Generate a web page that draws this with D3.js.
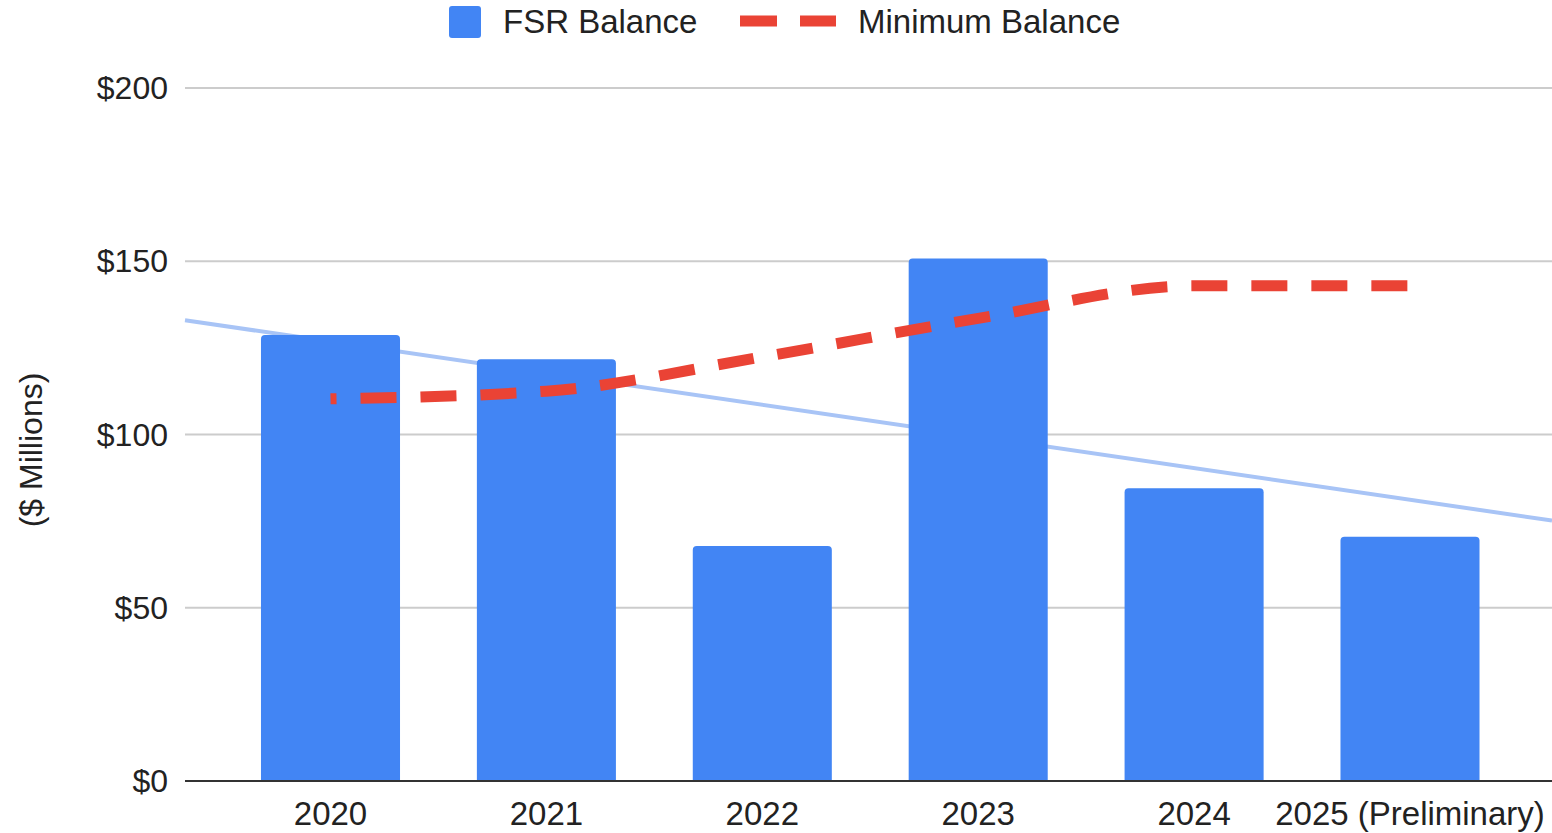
<!DOCTYPE html>
<html>
<head>
<meta charset="utf-8">
<script src="https://cdn.jsdelivr.net/npm/d3@7"></script>
<style>
  html, body { margin: 0; padding: 0; background: #fff; }
  svg { display: block; font-family: "Liberation Sans", Arial, sans-serif; }
</style>
</head>
<body>
<svg id="chart" width="1552" height="833"></svg>
<script>
// ---- data ----
const categories = ["2020", "2021", "2022", "2023", "2024", "2025 (Preliminary)"];
const fsrBalance = [128.7, 121.7, 67.8, 150.8, 84.5, 70.5];
const minimumBalance = [110.3, 112.5, 122.4, 133.5, 142.9, 142.9];
const yTicks = [0, 50, 100, 150, 200];
const seriesNames = ["FSR Balance", "Minimum Balance"];
const yAxisTitle = "($ Millions)";

// ---- layout ----
const svg = d3.select("#chart");
const plotLeft = 185, plotRight = 1552, plotTop = 88, plotBottom = 781;

const x = d3.scalePoint().domain(categories).range([330.5, 1410]);
const step = x.step();
const barW = step * 0.644;
const y = d3.scaleLinear().domain([0, 200]).range([plotBottom, plotTop]);

const colBar = "#4285f4", colMin = "#ea4335", colTrend = "#a8c4f6";

// gridlines
svg.append("g").selectAll("line").data(yTicks.filter(d => d > 0)).join("line")
  .attr("x1", plotLeft).attr("x2", plotRight)
  .attr("y1", d => y(d)).attr("y2", d => y(d))
  .attr("stroke", "#cccccc").attr("stroke-width", 2);

// y tick labels
svg.append("g").selectAll("text").data(yTicks).join("text")
  .attr("x", 168).attr("y", d => y(d))
  .attr("text-anchor", "end").attr("dominant-baseline", "central")
  .attr("font-size", 32).attr("fill", "#222")
  .text(d => "$" + d);

// y axis title
svg.append("text")
  .attr("transform", `translate(42, ${(370 + 530) / 2}) rotate(-90)`)
  .attr("text-anchor", "middle")
  .attr("font-size", 32).attr("fill", "#222")
  .text(yAxisTitle);

// trendline (linear regression on FSR balance by index)
const idx = fsrBalance.map((_, i) => i);
const mx = d3.mean(idx), my = d3.mean(fsrBalance);
const slope = d3.sum(idx, i => (i - mx) * (fsrBalance[i] - my)) / d3.sum(idx, i => (i - mx) ** 2);
const intercept = my - slope * mx;
const xIdx = d3.scaleLinear().domain([0, categories.length - 1]).range([x(categories[0]), x(categories[categories.length - 1])]);
const trendPts = [xIdx.invert(plotLeft), xIdx.invert(plotRight)].map(t => [xIdx(t), y(intercept + slope * t)]);
svg.append("path")
  .attr("d", d3.line()(trendPts))
  .attr("stroke", colTrend).attr("stroke-width", 4).attr("fill", "none");

// bars with rounded top corners
const r = 4;
svg.append("g").selectAll("path").data(categories).join("path")
  .attr("fill", colBar)
  .attr("d", (c, i) => {
    const x0 = x(c) - barW / 2, x1 = x(c) + barW / 2, y0 = y(fsrBalance[i]), yb = y(0);
    return `M${x0},${yb}V${y0 + r}Q${x0},${y0} ${x0 + r},${y0}H${x1 - r}Q${x1},${y0} ${x1},${y0 + r}V${yb}Z`;
  });

// baseline
svg.append("line")
  .attr("x1", plotLeft).attr("x2", plotRight)
  .attr("y1", y(0)).attr("y2", y(0))
  .attr("stroke", "#333").attr("stroke-width", 2);

// x labels
svg.append("g").selectAll("text").data(categories).join("text")
  .attr("x", d => x(d)).attr("y", 825)
  .attr("text-anchor", "middle")
  .attr("font-size", 33).attr("fill", "#222")
  .text(d => d);

// minimum balance line
const minLine = d3.line()
  .x((d, i) => x(categories[i]))
  .y(d => y(d))
  .curve(d3.curveMonotoneX);
svg.append("path")
  .attr("d", minLine(minimumBalance))
  .attr("stroke", colMin).attr("stroke-width", 11).attr("fill", "none")
  .attr("stroke-dasharray", "36,24").attr("stroke-dashoffset", 30);

// legend
const lg = svg.append("g");
lg.append("rect").attr("x", 449).attr("y", 6).attr("width", 32).attr("height", 32)
  .attr("rx", 3).attr("fill", colBar);
lg.append("text").attr("x", 503).attr("y", 33).attr("font-size", 33).attr("fill", "#222")
  .text(seriesNames[0]);
lg.append("line").attr("x1", 740).attr("x2", 836).attr("y1", 21).attr("y2", 21)
  .attr("stroke", colMin).attr("stroke-width", 11).attr("stroke-dasharray", "37,23");
lg.append("text").attr("x", 858).attr("y", 33).attr("font-size", 33).attr("fill", "#222")
  .text(seriesNames[1]);
</script>
</body>
</html>
